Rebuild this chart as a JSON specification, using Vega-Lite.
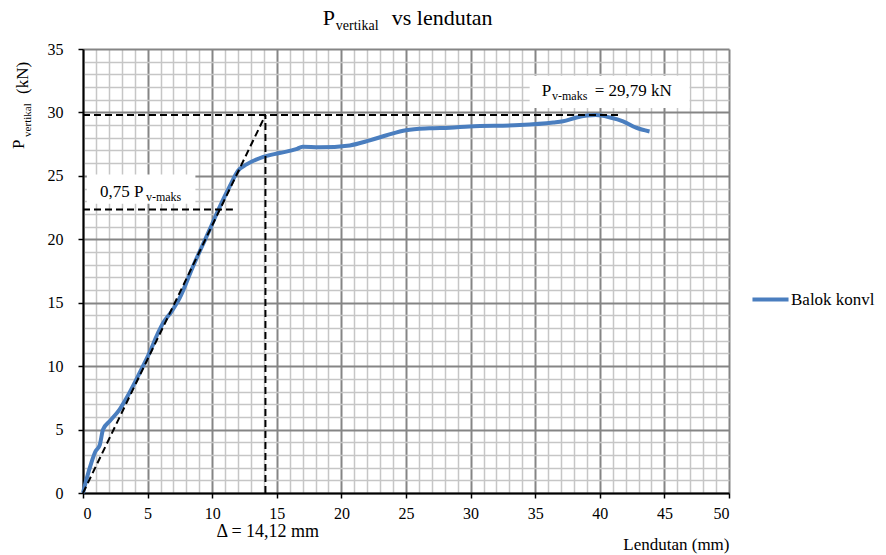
{
  "$schema": "https://vega.github.io/schema/vega-lite/v6.json",
  "width": 646,
  "height": 444,
  "autosize": {"type": "none"},
  "padding": {"left": 83, "top": 49, "right": 157, "bottom": 62},
  "background": "white",
  "config": {
    "view": {"stroke": null},
    "font": "Liberation Serif, serif",
    "text": {"font": "Liberation Serif, serif"},
    "axis": {
      "labelFont": "Liberation Serif, serif",
      "labelFontSize": 16,
      "labelColor": "#000000",
      "domainColor": "#000000",
      "domainWidth": 2,
      "tickColor": "#000000",
      "tickWidth": 1.5,
      "tickSize": 5,
      "labelOverlap": false,
      "labelExpr": "datum.value % 5 === 0 ? datum.label : ''",
      "tickOpacity": {"condition": {"test": "datum.value % 5 === 0", "value": 1}, "value": 0},
      "gridColor": {"condition": {"test": "datum.value % 5 === 0", "value": "#858585"}, "value": "#c6c6c6"},
      "gridWidth": {"condition": {"test": "datum.value % 5 === 0", "value": 2}, "value": 1.5}
    },
    "legend": {
      "labelFont": "Liberation Serif, serif",
      "labelFontSize": 17,
      "labelColor": "#000000"
    }
  },
  "datasets": {
    "curve": [
      {"s": "Balok konvl", "x": 0, "y": 0},
      {"s": "Balok konvl", "x": 0.26, "y": 1.05},
      {"s": "Balok konvl", "x": 0.65, "y": 2.4},
      {"s": "Balok konvl", "x": 0.95, "y": 3.25},
      {"s": "Balok konvl", "x": 1.3, "y": 3.8},
      {"s": "Balok konvl", "x": 1.55, "y": 5.0},
      {"s": "Balok konvl", "x": 2.06, "y": 5.65},
      {"s": "Balok konvl", "x": 2.84, "y": 6.6},
      {"s": "Balok konvl", "x": 3.6, "y": 7.9},
      {"s": "Balok konvl", "x": 4.4, "y": 9.5},
      {"s": "Balok konvl", "x": 5.15, "y": 11.06},
      {"s": "Balok konvl", "x": 5.8, "y": 12.6},
      {"s": "Balok konvl", "x": 6.2, "y": 13.4},
      {"s": "Balok konvl", "x": 6.85, "y": 14.3},
      {"s": "Balok konvl", "x": 7.45, "y": 15.3},
      {"s": "Balok konvl", "x": 8.53, "y": 17.9},
      {"s": "Balok konvl", "x": 9.82, "y": 20.8},
      {"s": "Balok konvl", "x": 10.6, "y": 22.6},
      {"s": "Balok konvl", "x": 11.37, "y": 24.2},
      {"s": "Balok konvl", "x": 12.0, "y": 25.4},
      {"s": "Balok konvl", "x": 12.66, "y": 25.9},
      {"s": "Balok konvl", "x": 13.95, "y": 26.5},
      {"s": "Balok konvl", "x": 15.2, "y": 26.8},
      {"s": "Balok konvl", "x": 16.5, "y": 27.1},
      {"s": "Balok konvl", "x": 17.0, "y": 27.3},
      {"s": "Balok konvl", "x": 18.3, "y": 27.25},
      {"s": "Balok konvl", "x": 20.65, "y": 27.4},
      {"s": "Balok konvl", "x": 22.2, "y": 27.8},
      {"s": "Balok konvl", "x": 23.5, "y": 28.2},
      {"s": "Balok konvl", "x": 25.0, "y": 28.6},
      {"s": "Balok konvl", "x": 26.8, "y": 28.75},
      {"s": "Balok konvl", "x": 28.4, "y": 28.8},
      {"s": "Balok konvl", "x": 29.9, "y": 28.9},
      {"s": "Balok konvl", "x": 33.8, "y": 29.0},
      {"s": "Balok konvl", "x": 36.4, "y": 29.2},
      {"s": "Balok konvl", "x": 37.15, "y": 29.3},
      {"s": "Balok konvl", "x": 38.2, "y": 29.6},
      {"s": "Balok konvl", "x": 39.7, "y": 29.79},
      {"s": "Balok konvl", "x": 40.8, "y": 29.6},
      {"s": "Balok konvl", "x": 41.8, "y": 29.3},
      {"s": "Balok konvl", "x": 42.8, "y": 28.8},
      {"s": "Balok konvl", "x": 43.85, "y": 28.5}
    ],
    "refs": [
      {"seg": "h", "x": 0, "y": 29.79},
      {"seg": "h", "x": 41.66, "y": 29.79},
      {"seg": "v", "x": 14.12, "y": 0},
      {"seg": "v", "x": 14.12, "y": 29.79},
      {"seg": "d", "x": 0, "y": 0},
      {"seg": "d", "x": 14.12, "y": 29.79},
      {"seg": "q", "x": 0, "y": 22.34},
      {"seg": "q", "x": 11.6, "y": 22.34}
    ],
    "boxes": [
      {"x": 0.3, "x2": 8.7, "y": 22.8, "y2": 25.1},
      {"x": 34.57, "x2": 46.95, "y": 30.35, "y2": 32.9}
    ],
    "mainText": [
      {"t": "0,75 P", "x": 1.31, "y": 23.33},
      {"t": "P", "x": 35.5, "y": 31.33},
      {"t": "= 29,79 kN", "x": 39.6, "y": 31.33}
    ],
    "subText": [
      {"t": "v-maks", "x": 4.87, "y": 23.01},
      {"t": "v-maks", "x": 36.3, "y": 31.01}
    ],
    "titleMain": [
      {"t": "P", "x": 18.56, "y": 36.91},
      {"t": "vs lendutan", "x": 23.9, "y": 36.91}
    ],
    "titleSub": [
      {"t": "vertikal", "x": 19.57, "y": 36.52}
    ],
    "yTitleMain": [
      {"t": "P", "x": -4.56, "y": 27.12},
      {"t": "(kN)", "x": -4.25, "y": 31.45}
    ],
    "yTitleSub": [
      {"t": "vertikal", "x": -4.0, "y": 28.07}
    ],
    "deltaText": [
      {"t": "Δ = 14,12 mm", "x": 14.3, "y": -3.45}
    ]
  },
  "encoding": {
    "x": {
      "field": "x", "type": "quantitative",
      "scale": {"domain": [0, 50], "nice": false, "zero": false},
      "axis": {
        "values": [0,1,2,3,4,5,6,7,8,9,10,11,12,13,14,15,16,17,18,19,20,21,22,23,24,25,26,27,28,29,30,31,32,33,34,35,36,37,38,39,40,41,42,43,44,45,46,47,48,49,50],
        "grid": true,
        "labelPadding": 7,
        "title": "Lendutan (mm)",
        "titleFont": "Liberation Serif, serif",
        "titleFontSize": 17,
        "titleFontWeight": "normal",
        "titleColor": "#000000",
        "titleAnchor": "end",
        "titleAlign": "right",
        "titleBaseline": "alphabetic",
        "titleX": 646,
        "titleY": 56
      }
    },
    "y": {
      "field": "y", "type": "quantitative",
      "scale": {"domain": [0, 35], "nice": false, "zero": false},
      "axis": {
        "values": [0,1,2,3,4,5,6,7,8,9,10,11,12,13,14,15,16,17,18,19,20,21,22,23,24,25,26,27,28,29,30,31,32,33,34,35],
        "grid": true,
        "labelPadding": 15,
        "title": null
      }
    }
  },
  "layer": [
    {
      "data": {"name": "curve"},
      "mark": {"type": "line", "strokeWidth": 4, "interpolate": "monotone"},
      "encoding": {
        "color": {
          "field": "s", "type": "nominal",
          "scale": {"range": ["#4a7ebf"]},
          "legend": {
            "title": null,
            "orient": "none",
            "legendX": 667,
            "legendY": 230,
            "symbolType": "stroke",
            "symbolStrokeWidth": 4,
            "symbolSize": 1300,
            "labelOffset": 0,
            "labelFont": "Liberation Serif, serif"
          }
        }
      }
    },
    {
      "data": {"name": "refs"},
      "mark": {"type": "line", "color": "#000000", "strokeWidth": 2, "strokeDash": [7, 4]},
      "encoding": {"detail": {"field": "seg"}}
    },
    {
      "data": {"name": "boxes"},
      "mark": {"type": "rect", "color": "#ffffff", "opacity": 1},
      "encoding": {
        "x2": {"field": "x2"},
        "y2": {"field": "y2"}
      }
    },
    {
      "data": {"name": "mainText"},
      "mark": {"type": "text", "font": "Liberation Serif, serif", "fontSize": 17, "align": "left", "baseline": "alphabetic", "color": "#000000"},
      "encoding": {"text": {"field": "t"}}
    },
    {
      "data": {"name": "subText"},
      "mark": {"type": "text", "font": "Liberation Serif, serif", "fontSize": 12, "align": "left", "baseline": "alphabetic", "color": "#000000"},
      "encoding": {"text": {"field": "t"}}
    },
    {
      "data": {"name": "titleMain"},
      "mark": {"type": "text", "font": "Liberation Serif, serif", "fontSize": 22, "align": "left", "baseline": "alphabetic", "color": "#000000"},
      "encoding": {"text": {"field": "t"}}
    },
    {
      "data": {"name": "titleSub"},
      "mark": {"type": "text", "font": "Liberation Serif, serif", "fontSize": 14, "align": "left", "baseline": "alphabetic", "color": "#000000"},
      "encoding": {"text": {"field": "t"}}
    },
    {
      "data": {"name": "yTitleMain"},
      "mark": {"type": "text", "font": "Liberation Serif, serif", "fontSize": 17, "angle": 270, "align": "left", "baseline": "alphabetic", "color": "#000000"},
      "encoding": {"text": {"field": "t"}}
    },
    {
      "data": {"name": "yTitleSub"},
      "mark": {"type": "text", "font": "Liberation Serif, serif", "fontSize": 11, "angle": 270, "align": "left", "baseline": "alphabetic", "color": "#000000"},
      "encoding": {"text": {"field": "t"}}
    },
    {
      "data": {"name": "deltaText"},
      "mark": {"type": "text", "font": "Liberation Serif, serif", "fontSize": 18, "align": "center", "baseline": "alphabetic", "color": "#000000"},
      "encoding": {"text": {"field": "t"}}
    }
  ]
}
